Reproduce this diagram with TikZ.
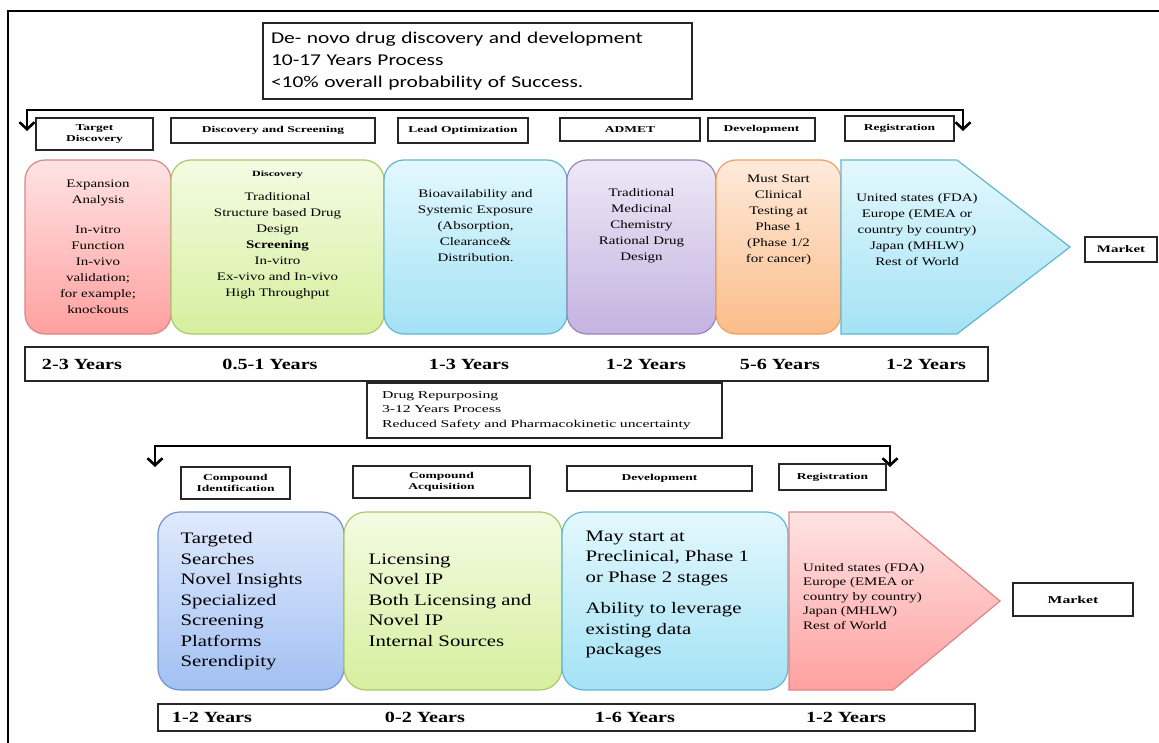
\documentclass[tikz,border=0pt]{standalone}
\usepackage{fontspec}
\setmainfont[FakeStretch=1.3]{Liberation Serif}
\newfontfamily\widefont[FakeStretch=1.5]{Liberation Serif}
\newfontfamily\calib[FakeStretch=1.3]{Carlito}
\usetikzlibrary{arrows.meta,positioning,shadings}
\definecolor{rdT}{HTML}{FFE3E3}\definecolor{rdB}{HTML}{FFA0A0}\definecolor{rdD}{HTML}{D98684}
\definecolor{gnT}{HTML}{F4FBE3}\definecolor{gnB}{HTML}{D6EF9E}\definecolor{gnD}{HTML}{A9C96A}
\definecolor{cyT}{HTML}{E3F8FD}\definecolor{cyB}{HTML}{A3E2F5}\definecolor{cyD}{HTML}{62B6CF}
\definecolor{puT}{HTML}{EEE8F6}\definecolor{puB}{HTML}{C5B3E1}\definecolor{puD}{HTML}{9A84BB}
\definecolor{orT}{HTML}{FEEADA}\definecolor{orB}{HTML}{FBBD8A}\definecolor{orD}{HTML}{F0A064}
\definecolor{blT}{HTML}{DFEAFC}\definecolor{blB}{HTML}{A2C0F3}\definecolor{blD}{HTML}{6F95CC}
\tikzset{
  box/.style={draw=black!85,line width=1.2pt,inner sep=0pt},
  lab/.style={box,align=center,font=\widefont\bfseries\fontsize{9}{10.5}\selectfont},
  stg/.style={rounded corners=20pt,line width=1.2pt,minimum height=174},
  lstg/.style={rounded corners=22pt,line width=1.2pt,minimum height=178},
  arw/.style={line width=1.2pt,line join=miter},
  stx/.style={inner sep=0pt,align=center,font=\fontsize{11.5}{16}\selectfont},
  ltx/.style={inner sep=0pt,align=left,font=\fontsize{16}{20.5}\selectfont},
  yrs/.style={inner sep=0pt,font=\bfseries\fontsize{15.5}{16}\selectfont},
  brk/.style={line width=2.8pt,{Straight Barb[length=7pt,width=15pt,line width=2.6pt]}-{Straight Barb[length=7pt,width=15pt,line width=2.6pt]}},
}
\begin{document}
\begin{tikzpicture}[x=1pt,y=-1pt]
\useasboundingbox (0,0) rectangle (1159,743);
\draw[line width=1.4pt] (8,760) -- (8,11) -- (1170,11);
% de novo route
\node[box,minimum width=429,minimum height=76,text width=413,align=left,font=\calib\fontsize{16.5}{22}\selectfont] (dn) at (477.5,61) {De- novo drug discovery and development\\10-17 Years Process\\<10\% overall probability  of Success.};
\coordinate (a1) at (27,131);
\coordinate (a2) at (963,131);
\draw[brk] (a1) -- ++(0,-21) -| (a2);
\node[lab,minimum width=117,minimum height=32] (l1) at (94.5,134) {Target\\Discovery};
\node[lab,minimum width=204,minimum height=25] (l2) at (273,130.5) {Discovery and Screening};
\node[lab,minimum width=130,minimum height=25] (l3) at (463,130.5) {Lead Optimization};
\node[lab,minimum width=140,minimum height=23] (l4) at (630,129.5) {ADMET};
\node[lab,minimum width=107,minimum height=23] (l5) at (761.5,129.5) {Development};
\node[lab,minimum width=109,minimum height=25] (l6) at (899.5,128.5) {Registration};
\node[stg,draw=rdD,top color=rdT,bottom color=rdB,minimum width=146] (s1) at (98,247) {};
\node[stg,draw=gnD,top color=gnT,bottom color=gnB,minimum width=213] (s2) at (277.5,247) {};
\node[stg,draw=cyD,top color=cyT,bottom color=cyB,minimum width=183] (s3) at (475.5,247) {};
\node[stg,draw=puD,top color=puT,bottom color=puB,minimum width=149] (s4) at (641.5,247) {};
\node[stg,draw=orD,top color=orT,bottom color=orB,minimum width=125] (s5) at (778.5,247) {};
\draw[arw,draw=cyD,top color=cyT,bottom color=cyB] (841,160) -- (957,160) -- (1070,247) -- (957,334) -- (841,334) -- cycle;
\node[stx] (x1) at (s1) {Expansion\\Analysis\\[14pt]In-vitro\\Function\\In-vivo\\validation;\\for example;\\knockouts};
\node[stx,below=11pt of s2.north] (x2) {{\widefont\bfseries\fontsize{8}{9}\selectfont Discovery}\\[8pt]Traditional\\Structure based Drug\\Design\\\textbf{Screening}\\In-vitro\\Ex-vivo and In-vivo\\High Throughput};
\node[stx,below=30pt of s3.north] (x3) {Bioavailability and\\Systemic Exposure\\(Absorption,\\Clearance\&\\Distribution.};
\node[stx,below=29pt of s4.north] (x4) {Traditional\\Medicinal\\Chemistry\\Rational Drug\\Design};
\node[stx,below=15pt of s5.north] (x5) {Must Start\\Clinical\\Testing at\\Phase 1\\(Phase 1/2\\for cancer)};
\node[stx] (x6) at (917,230) {United states (FDA)\\Europe (EMEA or\\country by country)\\Japan (MHLW)\\Rest of World};
\node[lab,minimum width=72,minimum height=25,font=\widefont\bfseries\fontsize{10}{11}\selectfont] (m1) at (1121,249.5) {Market};
\node[box,minimum width=963,minimum height=34] (y1) at (506.5,364) {};
\node[yrs] at (82,364) {2-3 Years};
\node[yrs] at (270,364) {0.5-1 Years};
\node[yrs] at (469,364) {1-3 Years};
\node[yrs] at (646,364) {1-2 Years};
\node[yrs] at (780,364) {5-6 Years};
\node[yrs] at (926,364) {1-2 Years};
% repurposing route
\node[box,minimum width=355,minimum height=55,text width=339,align=left,font=\widefont\fontsize{10.5}{14.5}\selectfont] (dr) at (544.5,410.5) {\hspace*{7pt}Drug Repurposing\\\hspace*{7pt}3-12 Years Process\\\hspace*{7pt}Reduced Safety and Pharmacokinetic uncertainty};
\coordinate (b1) at (155,467);
\coordinate (b2) at (890,467);
\draw[brk] (b1) -- ++(0,-21) -| (b2);
\node[lab,minimum width=109,minimum height=32] (k1) at (235.5,483) {Compound\\Identification};
\node[lab,minimum width=177,minimum height=32] (k2) at (441.5,482) {Compound\\Acquisition};
\node[lab,minimum width=185,minimum height=25] (k3) at (659.5,478.5) {Development};
\node[lab,minimum width=107,minimum height=26] (k4) at (832.5,477) {Registration};
\node[lstg,draw=blD,top color=blT,bottom color=blB,minimum width=186] (t1) at (251,601) {};
\node[lstg,draw=gnD,top color=gnT,bottom color=gnB,minimum width=218] (t2) at (453,601) {};
\node[lstg,draw=cyD,top color=cyT,bottom color=cyB,minimum width=226] (t3) at (675,601) {};
\draw[arw,draw=rdD,top color=rdT,bottom color=rdB] (789,512) -- (893,512) -- (1000,601) -- (893,690) -- (789,690) -- cycle;
\node[ltx,below right=21pt and 23pt of t1.north west] (z1) {Targeted\\Searches\\Novel Insights\\Specialized\\Screening\\Platforms\\Serendipity};
\node[ltx,below right=42pt and 25pt of t2.north west] (z2) {Licensing\\Novel IP\\Both Licensing and\\Novel IP\\Internal  Sources};
\node[ltx,below right=19pt and 24pt of t3.north west] (z3) {May start at\\Preclinical, Phase 1\\or Phase 2 stages\\[11pt]Ability to leverage\\existing data\\packages};
\node[inner sep=0pt,align=left,anchor=north west,font=\fontsize{11.5}{14.5}\selectfont] (z4) at (803,563) {United states (FDA)\\Europe (EMEA  or\\country by country)\\Japan (MHLW)\\Rest of World};
\node[lab,minimum width=120,minimum height=33,font=\widefont\bfseries\fontsize{10.5}{11}\selectfont] (m2) at (1073,599.5) {Market};
\node[box,minimum width=817,minimum height=27] (y2) at (566.5,717.5) {};
\node[yrs] at (212,717.5) {1-2 Years};
\node[yrs] at (425,717.5) {0-2 Years};
\node[yrs] at (635,717.5) {1-6 Years};
\node[yrs] at (846,717.5) {1-2 Years};
\end{tikzpicture}
\end{document}
